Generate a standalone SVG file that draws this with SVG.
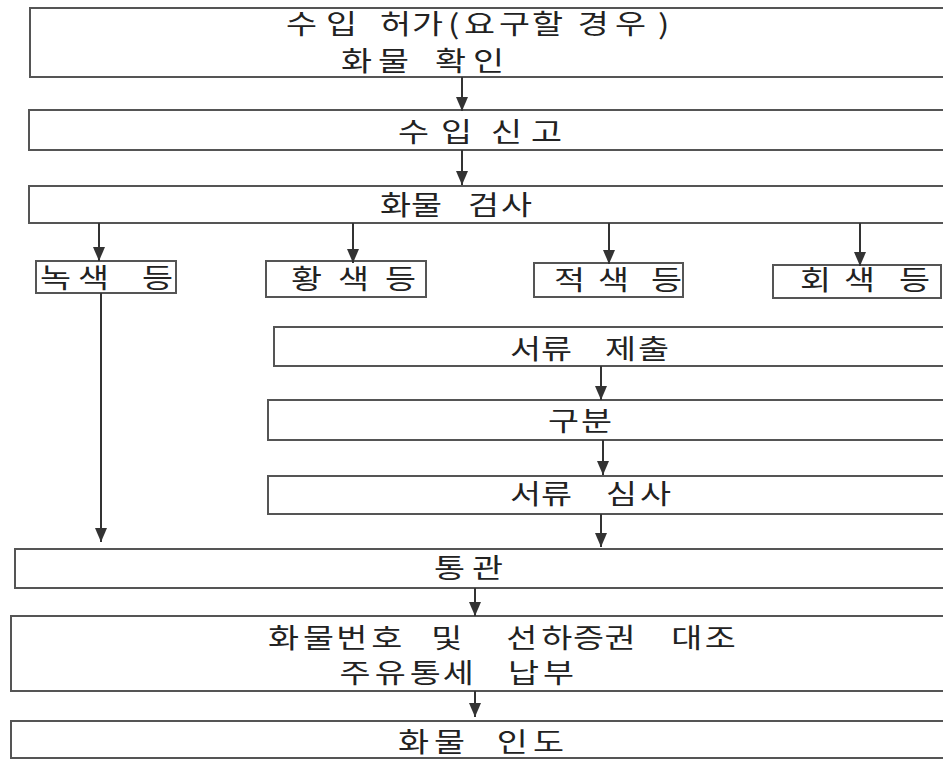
<svg xmlns="http://www.w3.org/2000/svg" width="943" height="759" viewBox="0 0 943 759">
<defs>
<style>
.box{fill:#fff;stroke:#555;stroke-width:2}
.t{font-family:"Noto Sans CJK KR","Noto Sans",sans-serif;font-size:27px;fill:#222;dominant-baseline:central}
.c{stroke:#333;stroke-width:2;fill:none;marker-end:url(#ah)}
</style>
<marker id="ah" markerUnits="userSpaceOnUse" markerWidth="14" markerHeight="12" refX="14" refY="6" orient="auto">
<path d="M0,0 L14,6 L0,12 z" fill="#333"/>
</marker>
</defs>
<rect width="943" height="759" fill="#fff"/>
<g id="n-permit"><rect class="box" x="30" y="8" width="930" height="69"/>
<text class="t" transform="scale(1.25,1)" y="23" x="228.9 260.8 280.8 304 329.6 358.5 371.2 399.2 425.6 453.6 462.3 492 526.4">수입 허가(요구할 경우)</text>
<text class="t" transform="scale(1.25,1)" y="60" x="272.8 302.4 324 348 378.4">화물 확인</text></g>
<g id="n-declare"><rect class="box" x="29" y="110" width="930" height="40"/>
<text class="t" transform="scale(1.25,1)" y="131" x="318.4 352.8 378 392.8 424.8">수입 신고</text></g>
<g id="n-inspect"><rect class="box" x="29" y="186" width="930" height="37"/>
<text class="t" transform="scale(1.25,1)" y="204" x="304 328.8 356.4 374.4 400.8">화물 검사</text></g>
<g id="n-green"><rect class="box" x="36" y="261" width="140" height="32"/>
<text class="t" transform="scale(1.25,1)" y="277" x="32 62.4 86.4 113.6">녹색 등</text></g>
<g id="n-yellow"><rect class="box" x="266" y="261" width="160" height="36"/>
<text class="t" transform="scale(1.25,1)" y="278" x="232.8 270.4 291.6 308">황색 등</text></g>
<g id="n-red"><rect class="box" x="534" y="263" width="149" height="34"/>
<text class="t" transform="scale(1.25,1)" y="279" x="443.2 478.4 496.8 520.8">적색 등</text></g>
<g id="n-grey"><rect class="box" x="773" y="265" width="168" height="33"/>
<text class="t" transform="scale(1.25,1)" y="279" x="640 675.2 696.6 719.2">회색 등</text></g>
<g id="n-submit"><rect class="box" x="274" y="327" width="690" height="39"/>
<text class="t" transform="scale(1.25,1)" y="348" x="408 432.8 453.6 484 510.4">서류 제출</text></g>
<g id="n-classify"><rect class="box" x="268" y="400" width="690" height="40"/>
<text class="t" transform="scale(1.25,1)" y="420" x="438.4 464.8">구분</text></g>
<g id="n-review"><rect class="box" x="268" y="476" width="690" height="38"/>
<text class="t" transform="scale(1.25,1)" y="493" x="408 432.8 453.6 484.8 512">서류 심사</text></g>
<g id="n-clear"><rect class="box" x="15" y="549" width="945" height="39"/>
<text class="t" transform="scale(1.25,1)" y="567" x="347.2 377.6">통관</text></g>
<g id="n-match"><rect class="box" x="11" y="616" width="950" height="75"/>
<text class="t" transform="scale(1.25,1)" y="637" x="214.4 242.4 269 297 318.6 345.1 367.2 405 433.1 458.4 483.7 507.6 537.1 563.8">화물번호 및 선하증권 대조</text>
<text class="t" transform="scale(1.25,1)" y="672" x="271.7 299.8 327.8 354.3 378 406.4 434.4">주유통세 납부</text></g>
<g id="n-release"><rect class="box" x="11" y="721" width="950" height="37"/>
<text class="t" transform="scale(1.25,1)" y="741" x="318.4 347.2 372.6 397.5 426.4">화물 인도</text></g>
<g id="connectors">
<line class="c" x1="462" y1="77" x2="462" y2="111"/>
<line class="c" x1="462" y1="150" x2="462" y2="185"/>
<line class="c" x1="99" y1="223" x2="99" y2="261"/>
<line class="c" x1="353" y1="223" x2="353" y2="263"/>
<line class="c" x1="609" y1="223" x2="609" y2="264"/>
<line class="c" x1="860" y1="223" x2="860" y2="266"/>
<line class="c" x1="101" y1="293" x2="101" y2="542"/>
<line class="c" x1="601" y1="366" x2="601" y2="400"/>
<line class="c" x1="603" y1="440" x2="603" y2="475"/>
<line class="c" x1="601" y1="514" x2="601" y2="547"/>
<line class="c" x1="475" y1="588" x2="475" y2="616"/>
<line class="c" x1="475" y1="691" x2="475" y2="717"/>
</g>
</svg>
